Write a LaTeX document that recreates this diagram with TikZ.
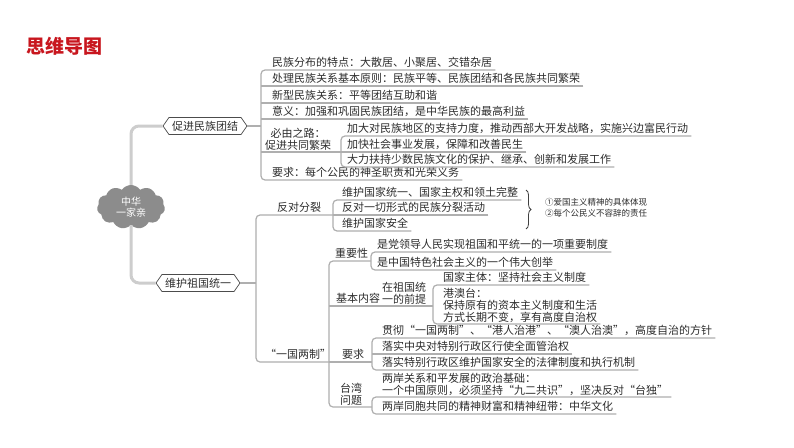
\documentclass[tikz,border=0pt]{standalone}
\usepackage{fontspec}
\setmainfont{Noto Sans CJK SC}
\usetikzlibrary{shapes.symbols,decorations.pathreplacing}
\definecolor{titlered}{RGB}{200,22,30}
\definecolor{inkc}{RGB}{45,45,45}
\definecolor{linec}{RGB}{175,175,175}
\definecolor{trunkc}{RGB}{205,205,205}
\tikzset{
  txt/.style={font=\fontsize{11}{12}\selectfont, text=inkc, inner xsep=3pt, inner ysep=1.5pt, text height=8.5pt, text depth=1.5pt, anchor=south west},
  mtxt/.style={font=\fontsize{11}{12}\selectfont, text=inkc, inner xsep=3pt, inner ysep=1.5pt, align=left, anchor=south west},
  ln/.style={draw=linec, line width=1.2pt, rounded corners=4pt},
  trunk/.style={draw=trunkc, line width=3pt, rounded corners=8pt},
  hexa/.style={signal, signal to=west and east, signal pointer angle=110, draw=black!70, line width=0.7pt, fill=white, minimum width=84pt, minimum height=17pt, inner sep=1pt, font=\fontsize{11}{12}\selectfont, text=inkc},
  anno/.style={font=\fontsize{8.5}{11}\selectfont, text=inkc, align=left, anchor=west, inner sep=1pt}
}
\begin{document}
\begin{tikzpicture}[x=1pt,y=-1pt]
\useasboundingbox (0,0) rectangle (794,447);
\fill[white] (0,0) rectangle (794,447);

% title
\node[font=\fontsize{19}{19}\selectfont\bfseries, text=titlered, anchor=west, inner sep=0pt] (title) at (26,46) {思维导图};

% root and hubs
\node[cloud, cloud puffs=11, cloud puff arc=110, aspect=1.5, fill=black!45, minimum width=68pt, minimum height=44pt, inner sep=0pt, text=white, align=center, font=\fontsize{10}{11}\selectfont] (root) at (131,207) {中华\\一家亲};
\node[hexa] (hub1) at (205,126) {促进民族团结};
\node[hexa] (hub2) at (198,283) {维护祖国统一};
\draw[trunk] (root.north) |- (hub1.west);
\draw[trunk] (root.south) |- (hub2.west);

% bracket x positions
\coordinate (B1) at (261,0);
\coordinate (B2) at (341,0);
\coordinate (B3) at (256,0);
\coordinate (B4) at (333,0);
\coordinate (B5) at (329,0);
\coordinate (B6) at (371,0);
\coordinate (B7) at (433,0);
\coordinate (B8) at (372,0);
\coordinate (B9) at (372,0);

% ---------- branch 1 ----------
\node[txt] (a1) at (269,70) {民族分布的特点：大散居、小聚居、交错杂居};
\node[txt] (a2) at (269,86) {处理民族关系基本原则：民族平等、民族团结和各民族共同繁荣};
\node[txt] (a3) at (269,103) {新型民族关系：平等团结互助和谐};
\node[txt] (a4) at (269,119) {意义：加强和巩固民族团结，是中华民族的最高利益};
\node[mtxt, align=center, anchor=south] (a5) at (298,152) {必由之路：\\促进共同繁荣};
\node[txt] (a6) at (269,180) {要求：每个公民的神圣职责和光荣义务};
\node[txt] (k1) at (344,136) {加大对民族地区的支持力度，推动西部大开发战略，实施兴边富民行动};
\node[txt] (k2) at (344,152) {加快社会事业发展，保障和改善民生};
\node[txt] (k3) at (344,167) {大力扶持少数民族文化的保护、继承、创新和发展工作};

\draw[ln] (hub1.east) -- (hub1.east -| B1);
\draw[ln] (a1.south east) -- (a1.south -| B1) -- (a6.south -| B1) -- (a6.south east);
\draw[ln] (a2.south east) -- (a2.south -| B1);
\draw[ln] (a3.south east) -- (a3.south -| B1);
\draw[ln] (a4.south east) -- (a4.south -| B1);
\draw[ln] (a5.south -| B1) -- (a5.south -| B2);
\draw[ln] (k1.south east) -- (k1.south -| B2) -- (k3.south -| B2) -- (k3.south east);
\draw[ln] (k2.south east) -- (k2.south -| B2);

% ---------- branch 2 ----------
\node[txt] (b1) at (274,215) {反对分裂};
\node[txt] (c1) at (339,200) {维护国家统一、国家主权和领土完整};
\node[txt] (c2) at (339,215) {反对一切形式的民族分裂活动};
\node[txt] (c3) at (339,231) {维护国家安全};
\node[anno] (ann) at (544,208) {①爱国主义精神的具体体现\\②每个公民义不容辞的责任};
\draw[draw=black!75, line width=0.8pt, decorate, decoration={brace, amplitude=5pt}] (526,190) -- (526,229);

\node[txt] (b2) at (262,362) {“一国两制”};

\node[txt] (d1) at (332,261) {重要性};
\node[txt] (e1) at (374,252) {是党领导人民实现祖国和平统一的一项重要制度};
\node[txt] (e2) at (374,270) {是中国特色社会主义的一个伟大创举};

\node[txt] (d2) at (333,306) {基本内容};
\node[mtxt] (f0) at (379,306) {在祖国统\\一的前提};
\node[txt] (g1) at (440,285) {国家主体：坚持社会主义制度};
\node[mtxt] (g2) at (440,324) {港澳台：\\保持原有的资本主义制度和生活\\方式长期不变，享有高度自治权};

\node[txt] (d3) at (339,362) {要求};
\node[txt] (r1) at (379,338) {贯彻“一国两制”、“港人治港”、“澳人治澳”，高度自治的方针};
\node[txt] (r2) at (379,354) {落实中央对特别行政区行使全面管治权};
\node[txt] (r3) at (379,370) {落实特别行政区维护国家安全的法律制度和执行机制};

\node[mtxt, align=center] (d4) at (337,407) {台湾\\问题};
\node[mtxt] (i1) at (379,397) {两岸关系和平发展的政治基础：\\一个中国原则，必须坚持“九二共识”，坚决反对“台独”};
\node[txt] (i2) at (379,414) {两岸同胞共同的精神财富和精神纽带：中华文化};

\draw[ln] (hub2.east) -- (hub2.east -| B3);
\draw[ln] (b1.south -| B4) -- (b1.south -| B3) -- (b2.south -| B3) -- (b2.south -| B5);
\draw[ln] (c1.south east) -- (c1.south -| B4) -- (c3.south -| B4) -- (c3.south east);
\draw[ln] (c2.south east) -- (c2.south -| B4);

\draw[ln] (d1.south -| B6) -- (d1.south -| B5) -- (d4.south -| B5) -- (d4.south -| B9);
\draw[ln] (d2.south -| B5) -- (f0.south -| B7);
\draw[ln] (d3.south -| B5) -- (d3.south -| B8);
\draw[ln] (e1.south east) -- (e1.south -| B6) -- (e2.south -| B6) -- (e2.south east);
\draw[ln] (g1.south east) -- (g1.south -| B7) -- (g2.south -| B7) -- (g2.south east);
\draw[ln] (r1.south east) -- (r1.south -| B8) -- (r3.south -| B8) -- (r3.south east);
\draw[ln] (r2.south east) -- (r2.south -| B8);
\draw[ln] (i1.south east) -- (i1.south -| B9) -- (i2.south -| B9) -- (i2.south east);
\end{tikzpicture}
\end{document}
